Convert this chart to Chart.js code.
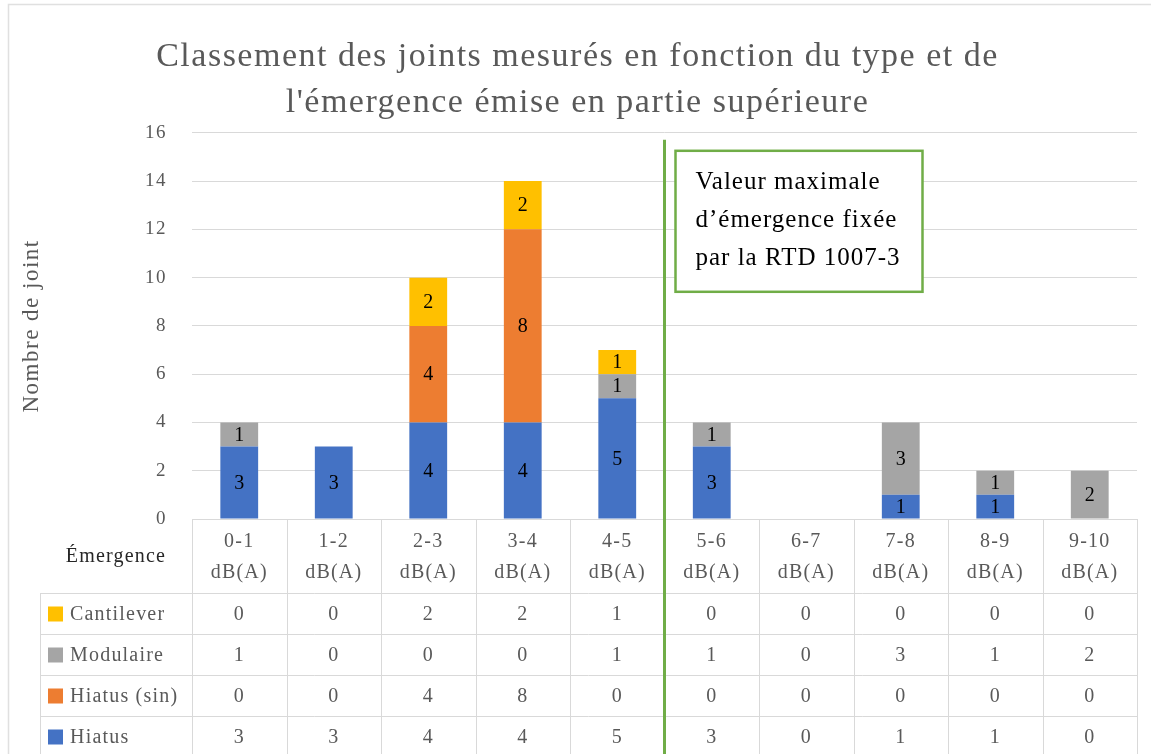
<!DOCTYPE html>
<html>
<head>
<meta charset="utf-8">
<script src="https://cdn.jsdelivr.net/npm/chart.js@4/dist/chart.umd.min.js"></script>
<style>
  html, body { margin: 0; padding: 0; background: #fff; }
  #wrap { width: 1151px; height: 754px; position: relative; }
</style>
</head>
<body>
<div id="wrap"><canvas id="myChart"></canvas></div>
<script>
// data
var categories = ['0-1', '1-2', '2-3', '3-4', '4-5', '5-6', '6-7', '7-8', '8-9', '9-10'];
var unit = 'dB(A)';
var hiatus     = [3, 3, 4, 4, 5, 3, 0, 1, 1, 0];
var hiatusSin  = [0, 0, 4, 8, 0, 0, 0, 0, 0, 0];
var modulaire  = [1, 0, 0, 0, 1, 1, 0, 3, 1, 2];
var cantilever = [0, 0, 2, 2, 1, 0, 0, 0, 0, 0];
var yTicks = [0, 2, 4, 6, 8, 10, 12, 14, 16];
var limitPos = 4.5; // limite entre 4-5 et 5-6 dB(A)
var noteLines = ['Valeur maximale', 'd\u2019émergence fixée', 'par la RTD 1007-3'];

var FONT = '"Liberation Serif", "DejaVu Serif", serif';
var GREEN = '#70AD47';

var datasets = [
    { label: 'Hiatus', data: hiatus, backgroundColor: '#4472C4' },
    { label: 'Hiatus (sin)', data: hiatusSin, backgroundColor: '#ED7D31' },
    { label: 'Modulaire', data: modulaire, backgroundColor: '#A5A5A5' },
    { label: 'Cantilever', data: cantilever, backgroundColor: '#FFC000' }
];

// fond + cadre
var framePlugin = {
    id: 'frame',
    beforeDraw: function(chart) {
        var ctx = chart.ctx;
        ctx.fillStyle = '#fff';
        ctx.fillRect(0, 0, chart.width, chart.height);
        ctx.strokeStyle = '#e0e0e0';
        ctx.lineWidth = 1.5;
        ctx.beginPath();
        ctx.moveTo(8.5, chart.height);
        ctx.lineTo(8.5, 4.5);
        ctx.lineTo(chart.width, 4.5);
        ctx.stroke();
        // police plus large façon Computer Modern
        ctx.letterSpacing = '1.5px';
    },
    afterDraw: function(chart) {
        chart.ctx.letterSpacing = '0px';
    }
};

// valeurs dans les barres
var labelsPlugin = {
    id: 'barLabels',
    afterDatasetsDraw: function(chart) {
        var ctx = chart.ctx;
        ctx.save();
        ctx.letterSpacing = '0px';
        ctx.font = '20px ' + FONT;
        ctx.fillStyle = '#000';
        ctx.textAlign = 'center';
        ctx.textBaseline = 'middle';
        chart.data.datasets.forEach(function(ds, d) {
            chart.getDatasetMeta(d).data.forEach(function(bar, i) {
                if (!ds.data[i]) return;
                ctx.fillText(ds.data[i], bar.x, (bar.y + bar.base) / 2 + 1);
            });
        });
        ctx.restore();
    }
};

// tableau de données + ligne limite + encadré
var tablePlugin = {
    id: 'dataTable',
    afterDraw: function(chart) {
        var ctx = chart.ctx;
        var x = chart.scales.x;
        var area = chart.chartArea;
        var n = categories.length;
        var colW = x.getPixelForValue(1) - x.getPixelForValue(0);
        var left = x.getPixelForValue(0) - colW / 2;
        var right = x.getPixelForValue(n - 1) + colW / 2;
        var legLeft = 40;
        var top = area.bottom;
        var headH = 74, rowH = 41;
        var rows = [datasets[3], datasets[2], datasets[1], datasets[0]];

        ctx.save();
        ctx.strokeStyle = '#d9d9d9';
        ctx.lineWidth = 1;
        ctx.beginPath();
        ctx.moveTo(left, top + 0.5);
        ctx.lineTo(right, top + 0.5);
        for (var r = 0; r < rows.length; r++) {
            var yy = Math.round(top + headH + r * rowH) + 0.5;
            ctx.moveTo(legLeft, yy);
            ctx.lineTo(right, yy);
        }
        for (var c = 0; c <= n; c++) {
            var xx = Math.round(left + c * colW) + 0.5;
            ctx.moveTo(xx, top);
            ctx.lineTo(xx, chart.height);
        }
        ctx.moveTo(legLeft + 0.5, top + headH);
        ctx.lineTo(legLeft + 0.5, chart.height);
        ctx.stroke();

        ctx.letterSpacing = '1.2px';
        ctx.font = '20px ' + FONT;
        ctx.textBaseline = 'middle';
        ctx.textAlign = 'center';
        ctx.fillStyle = '#262626';
        ctx.fillText('Émergence', (legLeft + left) / 2, top + headH / 2 + 1);
        ctx.fillStyle = '#595959';
        categories.forEach(function(cat, i) {
            var cx = x.getPixelForValue(i);
            ctx.fillText(cat, cx, top + 23);
            ctx.fillText(unit, cx, top + 54);
        });

        rows.forEach(function(ds, r) {
            var cy = top + headH + r * rowH + rowH / 2 + 1;
            ctx.fillStyle = ds.backgroundColor;
            ctx.fillRect(legLeft + 8, cy - 8, 15, 15);
            ctx.fillStyle = '#595959';
            ctx.textAlign = 'left';
            ctx.fillText(ds.label, legLeft + 30, cy);
            ctx.textAlign = 'center';
            ds.data.forEach(function(v, i) {
                ctx.fillText(v, x.getPixelForValue(i), cy);
            });
        });

        // ligne limite
        var lx = x.getPixelForValue(limitPos);
        ctx.strokeStyle = GREEN;
        ctx.lineWidth = 3;
        ctx.beginPath();
        ctx.moveTo(lx, area.top + 7);
        ctx.lineTo(lx, chart.height);
        ctx.stroke();

        // encadré
        var bx = lx + 11, by = area.top + 18, bw = 247, bh = 141;
        ctx.fillStyle = '#fff';
        ctx.fillRect(bx, by, bw, bh);
        ctx.lineWidth = 2.5;
        ctx.strokeRect(bx, by, bw, bh);
        ctx.letterSpacing = '1px';
        ctx.font = '25px ' + FONT;
        ctx.fillStyle = '#000';
        ctx.textAlign = 'left';
        noteLines.forEach(function(t, k) {
            ctx.fillText(t, bx + 20, by + 32 + k * 38);
        });
        ctx.restore();
    }
};

var ctx = document.getElementById('myChart').getContext('2d');
var chart = new Chart(ctx, {
    type: 'bar',
    data: {
        labels: categories,
        datasets: datasets.map(function(d) {
            return Object.assign({ categoryPercentage: 1, barPercentage: 0.4 }, d);
        })
    },
    options: {
        responsive: true,
        maintainAspectRatio: false,
        animation: false,
        layout: { padding: { top: 0, left: 18, right: 14, bottom: 235 } },
        plugins: {
            legend: { display: false },
            tooltip: { enabled: false },
            title: {
                display: true,
                text: ['Classement des joints mesurés en fonction du type et de', 'l\'émergence émise en partie supérieure'],
                color: '#595959',
                font: { family: FONT, size: 34, weight: 'normal', lineHeight: 1.35 },
                padding: { top: 34, bottom: 7 }
            }
        },
        scales: {
            x: { display: false, stacked: true },
            y: {
                stacked: true,
                min: yTicks[0],
                max: yTicks[yTicks.length - 1],
                afterBuildTicks: function(scale) {
                    scale.ticks = yTicks.map(function(v) { return { value: v }; });
                },
                afterFit: function(scale) { scale.width = 174; },
                grid: { color: '#d9d9d9', drawTicks: false },
                border: { display: false },
                ticks: { color: '#595959', padding: 25, font: { family: FONT, size: 19 } },
                title: {
                    display: true,
                    text: 'Nombre de joint',
                    color: '#595959',
                    padding: 0,
                    font: { family: FONT, size: 23 }
                }
            }
        }
    },
    plugins: [framePlugin, labelsPlugin, tablePlugin]
});
</script>
</body>
</html>
